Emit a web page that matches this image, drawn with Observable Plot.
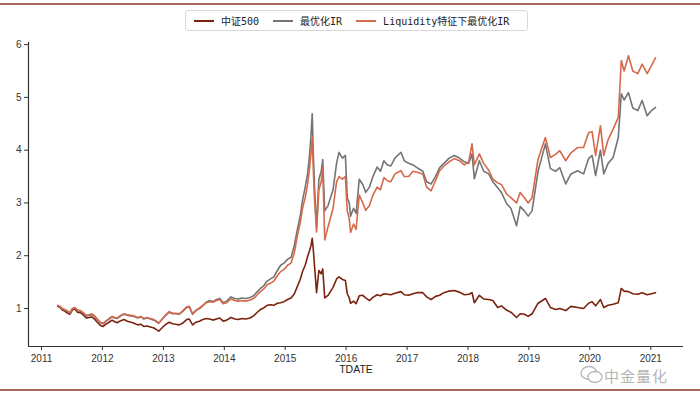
<!DOCTYPE html>
<html><head><meta charset="utf-8">
<script src="https://cdn.jsdelivr.net/npm/d3@7"></script>
<script src="https://cdn.jsdelivr.net/npm/@observablehq/plot@0.6"></script>
<style>
html,body{margin:0;padding:0;background:#fff;}
#wrap{position:relative;width:700px;height:394px;overflow:hidden;font-family:"Liberation Sans",Arial,sans-serif;}
.hr{position:absolute;left:0;width:700px;height:2px;background:#a8665c;}
#legend{position:absolute;left:185px;top:10px;width:343px;height:21px;border:1px solid #d8d8d8;border-radius:3px;box-sizing:border-box;display:flex;align-items:center;font-family:"DejaVu Sans Mono","Noto Sans CJK SC",monospace;font-size:10px;color:#222;background:#fff;white-space:nowrap;}
.it{display:flex;align-items:center;margin-left:8px;margin-right:6px;white-space:nowrap;}
.sw{width:20px;height:2px;margin-right:7px;flex:none;}
#wm{position:absolute;left:604px;top:368px;font-family:"Noto Sans CJK SC",sans-serif;font-size:15px;color:#b5b5b5;letter-spacing:1px;line-height:16px;}
#plot{position:absolute;left:0;top:0;}
</style></head>
<body><div id="wrap">
<div class="hr" style="top:3px"></div>
<div class="hr" style="top:389px"></div>
<div id="plot"></div>
<div id="legend"></div>
<svg style="position:absolute;left:579px;top:365px" width="26" height="20"><ellipse cx="10" cy="8" rx="8" ry="6.5" fill="none" stroke="#b5b5b5" stroke-width="1.3"/><ellipse cx="16" cy="12" rx="7" ry="5.5" fill="#fff" stroke="#b5b5b5" stroke-width="1.3"/></svg>
<div id="wm">中金量化</div>
</div>
<script>
const seriesNames = ["中证500", "最优化IR", "Liquidity特征下最优化IR"];
const seriesColors = ["#7a220e", "#747474", "#d5694b"];
const dates = [
"2011-04-08","2011-04-22","2011-05-06","2011-05-20","2011-06-03","2011-06-20","2011-07-05","2011-07-20","2011-08-05","2011-08-22",
"2011-09-08","2011-09-26","2011-10-14","2011-10-28","2011-11-15","2011-12-01","2011-12-20","2012-01-06","2012-01-20","2012-02-10",
"2012-02-28","2012-03-15","2012-03-30","2012-04-20","2012-05-10","2012-05-30","2012-06-20","2012-07-10","2012-07-30","2012-08-20",
"2012-09-05","2012-09-25","2012-10-15","2012-11-05","2012-11-25","2012-12-04","2012-12-25","2013-01-15","2013-02-05","2013-02-25",
"2013-03-15","2013-04-05","2013-04-25","2013-05-20","2013-06-05","2013-06-25","2013-07-15","2013-08-05","2013-08-25","2013-09-15",
"2013-10-05","2013-10-25","2013-11-15","2013-12-05","2013-12-25","2014-01-15","2014-02-10","2014-03-05","2014-03-25","2014-04-15",
"2014-05-10","2014-06-05","2014-06-25","2014-07-15","2014-08-05","2014-08-25","2014-09-15","2014-10-05","2014-10-25","2014-11-15",
"2014-12-05","2014-12-25","2015-01-15","2015-02-05","2015-02-25","2015-03-15","2015-04-01","2015-04-15","2015-05-01","2015-05-15",
"2015-05-27","2015-06-05","2015-06-12","2015-06-19","2015-06-26","2015-07-08","2015-07-22","2015-08-05","2015-08-14","2015-08-26",
"2015-09-15","2015-10-15","2015-11-05","2015-11-20","2015-12-10","2015-12-28","2016-01-08","2016-01-20","2016-01-28","2016-02-15",
"2016-03-01","2016-03-20","2016-04-10","2016-04-28","2016-05-20","2016-06-10","2016-07-05","2016-07-25","2016-08-15","2016-09-05",
"2016-09-25","2016-10-20","2016-11-25","2016-12-15","2017-01-10","2017-02-05","2017-03-01","2017-04-05","2017-04-28","2017-05-25",
"2017-06-20","2017-07-15","2017-08-10","2017-09-10","2017-10-10","2017-11-10","2017-12-10","2018-01-05","2018-01-25","2018-02-08",
"2018-03-10","2018-04-05","2018-05-05","2018-05-30","2018-06-28","2018-07-20","2018-08-20","2018-09-15","2018-10-19","2018-11-10",
"2018-12-05","2018-12-28","2019-01-20","2019-02-25","2019-04-10","2019-05-10","2019-06-10","2019-07-05","2019-08-10","2019-09-10",
"2019-10-20","2019-11-25","2019-12-25","2020-01-15","2020-02-05","2020-03-05","2020-03-25","2020-04-20","2020-05-20","2020-06-20",
"2020-07-08","2020-07-25","2020-08-20","2020-09-15","2020-10-15","2020-11-10","2020-12-10","2021-01-05","2021-01-29"
];
const csi500 = [
1.04,1.02,0.97,0.95,0.92,0.89,0.97,0.99,0.93,0.92,
0.88,0.82,0.83,0.84,0.80,0.74,0.68,0.66,0.70,0.74,
0.78,0.75,0.73,0.77,0.79,0.76,0.74,0.72,0.69,0.70,
0.66,0.67,0.65,0.63,0.59,0.57,0.64,0.70,0.74,0.71,
0.70,0.69,0.72,0.79,0.80,0.69,0.74,0.76,0.79,0.81,
0.80,0.78,0.80,0.82,0.76,0.78,0.83,0.80,0.79,0.81,
0.80,0.82,0.86,0.92,0.98,1.01,1.06,1.07,1.06,1.10,
1.11,1.13,1.17,1.20,1.28,1.42,1.55,1.70,1.82,1.98,
2.10,2.20,2.33,2.10,1.80,1.30,1.72,1.66,1.75,1.20,
1.25,1.40,1.56,1.60,1.55,1.53,1.28,1.20,1.10,1.14,
1.09,1.24,1.25,1.20,1.15,1.21,1.26,1.24,1.28,1.27,
1.26,1.29,1.32,1.26,1.25,1.28,1.30,1.30,1.22,1.17,
1.23,1.25,1.30,1.33,1.34,1.31,1.26,1.27,1.30,1.11,
1.25,1.18,1.17,1.15,1.02,1.05,0.97,0.93,0.83,0.90,
0.89,0.85,0.90,1.10,1.19,1.02,0.98,1.00,0.96,1.04,
1.02,1.00,1.10,1.13,1.05,1.17,1.02,1.06,1.08,1.11,
1.38,1.33,1.32,1.28,1.27,1.30,1.26,1.28,1.30
];
const optIR = [
1.05,1.03,0.99,0.97,0.95,0.91,0.99,1.01,0.96,0.95,
0.91,0.86,0.87,0.88,0.85,0.79,0.73,0.71,0.75,0.80,
0.84,0.82,0.81,0.86,0.89,0.87,0.86,0.85,0.82,0.84,
0.80,0.82,0.80,0.78,0.74,0.72,0.80,0.87,0.93,0.90,
0.90,0.89,0.94,1.02,1.03,0.89,0.96,1.00,1.05,1.12,
1.15,1.13,1.17,1.19,1.11,1.14,1.22,1.19,1.18,1.20,
1.19,1.21,1.24,1.31,1.38,1.43,1.52,1.56,1.60,1.72,
1.82,1.86,1.93,1.97,2.20,2.50,2.75,3.05,3.30,3.55,
3.90,4.30,4.69,3.90,3.30,2.53,3.45,3.60,3.82,2.85,
2.95,3.25,3.75,3.96,3.85,3.90,3.10,3.00,2.75,2.90,
2.80,3.45,3.35,3.20,3.30,3.50,3.68,3.60,3.80,3.72,
3.70,3.85,3.96,3.80,3.75,3.72,3.67,3.60,3.40,3.36,
3.50,3.67,3.75,3.85,3.90,3.85,3.78,3.75,3.93,3.46,
3.80,3.60,3.55,3.40,3.29,3.20,2.99,2.90,2.57,2.93,
2.85,2.75,2.85,3.60,4.12,3.65,3.60,3.67,3.36,3.55,
3.61,3.55,3.84,3.90,3.52,4.00,3.55,3.75,3.86,4.24,
5.07,4.95,5.09,4.80,4.75,4.94,4.65,4.75,4.81
];
const liqIR = [
1.06,1.04,1.00,0.98,0.96,0.92,1.00,1.02,0.97,0.96,
0.92,0.87,0.88,0.90,0.86,0.80,0.74,0.72,0.76,0.81,
0.85,0.83,0.82,0.87,0.90,0.88,0.87,0.86,0.83,0.85,
0.81,0.83,0.81,0.79,0.75,0.72,0.80,0.88,0.94,0.91,
0.91,0.90,0.95,1.03,1.04,0.90,0.97,1.01,1.06,1.11,
1.13,1.12,1.15,1.17,1.09,1.11,1.18,1.15,1.14,1.15,
1.14,1.16,1.19,1.25,1.32,1.37,1.45,1.48,1.52,1.62,
1.70,1.74,1.82,1.86,2.06,2.38,2.62,2.90,3.10,3.35,
3.65,3.95,4.24,3.60,3.05,2.45,3.25,3.40,3.68,2.30,
2.55,2.90,3.40,3.50,3.45,3.50,2.85,2.70,2.44,2.60,
2.50,3.15,3.00,2.86,2.95,3.15,3.30,3.25,3.48,3.42,
3.40,3.55,3.61,3.50,3.50,3.60,3.58,3.55,3.30,3.23,
3.42,3.61,3.70,3.78,3.84,3.80,3.72,3.78,4.12,3.72,
3.93,3.75,3.62,3.45,3.38,3.35,3.17,3.10,3.00,3.20,
3.10,3.00,3.10,3.83,4.24,3.86,3.92,3.99,3.80,3.95,
4.05,4.05,4.33,4.35,3.90,4.46,3.90,4.20,4.40,4.62,
5.70,5.50,5.79,5.50,5.45,5.63,5.45,5.60,5.75
];
const yearTicks = [2011,2012,2013,2014,2015,2016,2017,2018,2019,2020,2021];
const yTicks = [1,2,3,4,5,6];
const xDomain = [new Date("2010-10-15"), new Date("2021-07-16")];
const yDomain = [0.28, 6.04];

const parse = d3.utcParse("%Y-%m-%d");
const allSeries = [csi500, optIR, liqIR];
const rows = [];
allSeries.forEach((vals, s) => {
  dates.forEach((d, i) => rows.push({date: parse(d), value: vals[i], series: seriesNames[s]}));
});

const chart = Plot.plot({
  width: 700, height: 394,
  marginTop: 42, marginBottom: 48, marginLeft: 28, marginRight: 17,
  style: {fontFamily: "Liberation Sans, Arial, sans-serif", fontSize: "10px", color: "#333", background: "transparent"},
  x: {type: "utc", domain: xDomain},
  y: {domain: yDomain},
  marks: [
    Plot.axisX({ticks: yearTicks.map(y => new Date(Date.UTC(y,0,1))), tickFormat: d3.utcFormat("%Y"), tickSize: 4, tickPadding: 4, label: null, stroke: "#333", fontSize: 10}),
    Plot.axisY({ticks: yTicks, tickFormat: d3.format("d"), tickSize: 4, tickPadding: 3, label: null, stroke: "#333", fontSize: 10}),
    Plot.ruleY([yDomain[0]], {stroke: "#333", strokeWidth: 1.2}),
    Plot.ruleX([xDomain[0]], {stroke: "#333", strokeWidth: 1.2}),
    ...seriesNames.map((name, s) => Plot.lineY(rows.filter(r => r.series === name), {x: "date", y: "value", stroke: seriesColors[s], strokeWidth: 1.6})),
    Plot.text(["TDATE"], {frameAnchor: "bottom", dy: 26, fontSize: 10.5, fill: "#222"})
  ]
});
document.getElementById("plot").appendChild(chart);

const leg = document.getElementById("legend");
seriesNames.forEach((n, i) => {
  const it = document.createElement("div"); it.className = "it";
  const sw = document.createElement("div"); sw.className = "sw"; sw.style.background = seriesColors[i];
  const t = document.createElement("span"); t.textContent = n;
  it.appendChild(sw); it.appendChild(t); leg.appendChild(it);
});
</script>
</body></html>
